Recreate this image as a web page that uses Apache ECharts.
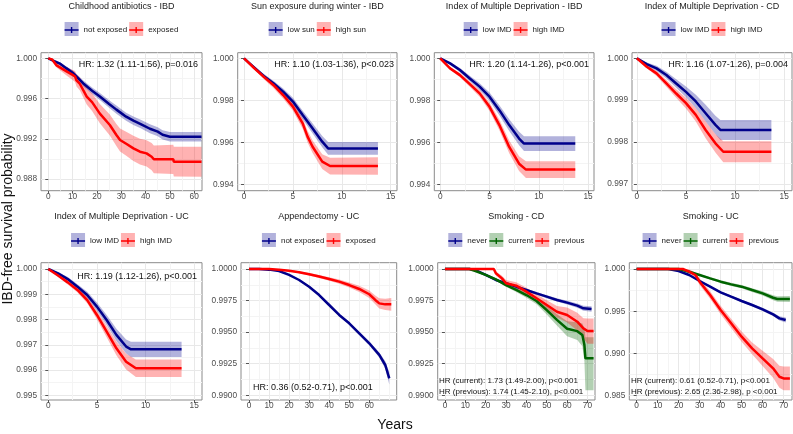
<!DOCTYPE html>
<html>
<head>
<meta charset="utf-8">
<script src="https://cdn.jsdelivr.net/npm/echarts@6/dist/echarts.min.js"></script>
<style>
html, body { margin: 0; padding: 0; background: #fff; }
#main { width: 793px; height: 434px; }
</style>
</head>
<body>
<div id="main"></div>
<script>
// ---- data (time in years, survival, lower / upper CI) ----

// Childhood antibiotics - IBD
var p1NotT = [0, 2, 5, 7.5, 10, 14.4, 18, 21.2, 25, 28, 32, 35, 38, 41.8, 45, 47, 50, 55, 63];
var p1NotS = [1, 0.99977, 0.99944, 0.9990, 0.99857, 0.9975, 0.99678, 0.9962, 0.99546, 0.9949, 0.9942, 0.9938, 0.99347, 0.9930, 0.99271, 0.9924, 0.99221, 0.99221, 0.99221];
var p1NotLo = [1, 0.99967, 0.99929, 0.9988, 0.99832, 0.9972, 0.99645, 0.99585, 0.99508, 0.9945, 0.9938, 0.99338, 0.99304, 0.99256, 0.99226, 0.99194, 0.99174, 0.99174, 0.99174];
var p1NotHi = [1, 0.99987, 0.99959, 0.9992, 0.99882, 0.9978, 0.99711, 0.99655, 0.99584, 0.9953, 0.9946, 0.99422, 0.9939, 0.99344, 0.99316, 0.99286, 0.99268, 0.99268, 0.99268];
var p1ExpT = [0, 1.5, 3.4, 7.5, 10, 11, 11.6, 13, 15.8, 18, 21.2, 25.3, 28, 29.5, 32.2, 35, 37.7, 40.4, 42.5, 43.4, 51.4, 51.6, 63];
var p1ExpS = [1, 0.9999, 0.9993, 0.9987, 0.99835, 0.9982, 0.9978, 0.99745, 0.9962, 0.99565, 0.9945, 0.99337, 0.99238, 0.99188, 0.99148, 0.99105, 0.99072, 0.99055, 0.99022, 0.98996, 0.98996, 0.98972, 0.98972];
var p1ExpLo = [1, 0.9998, 0.9991, 0.9983, 0.99785, 0.99765, 0.9972, 0.9968, 0.9954, 0.99477, 0.99355, 0.99232, 0.99128, 0.99073, 0.99028, 0.9898, 0.98944, 0.98925, 0.98887, 0.98858, 0.98851, 0.98824, 0.98822];
var p1ExpHi = [1, 1, 0.9995, 0.9991, 0.99885, 0.99875, 0.9984, 0.9981, 0.997, 0.99653, 0.99545, 0.99442, 0.99348, 0.99303, 0.99268, 0.9923, 0.992, 0.99185, 0.99157, 0.99134, 0.99141, 0.9912, 0.99122];

// Sun exposure during winter - IBD
var p2LowT = [0, 1, 2, 3, 4, 5, 6, 7, 8, 8.6, 13.7];
var p2LowS = [1, 0.99958, 0.99916, 0.99881, 0.99841, 0.99794, 0.9973, 0.99667, 0.99603, 0.99571, 0.99571];
var p2LowLo = [1, 0.99952, 0.99906, 0.99869, 0.99826, 0.99776, 0.9971, 0.99643, 0.99576, 0.99541, 0.99541];
var p2LowHi = [1, 0.99964, 0.99926, 0.99893, 0.99856, 0.99812, 0.9975, 0.99691, 0.9963, 0.99601, 0.99601];
var p2HighT = [0, 1, 2, 3, 4, 5, 6, 6.5, 7, 8, 8.8, 13.7];
var p2HighS = [1, 0.99955, 0.99913, 0.99873, 0.99825, 0.9977, 0.9969, 0.99627, 0.9958, 0.99508, 0.99487, 0.99487];
var p2HighLo = [1, 0.99948, 0.99902, 0.99859, 0.99808, 0.9975, 0.99665, 0.99599, 0.9955, 0.99473, 0.99447, 0.99445];
var p2HighHi = [1, 0.99962, 0.99924, 0.99887, 0.99842, 0.9979, 0.99715, 0.99655, 0.9961, 0.99543, 0.99527, 0.99529];

// Index of Multiple Deprivation - IBD
var p3LowT = [0, 1, 2, 3, 4, 5, 6, 7, 8, 8.5, 13.7];
var p3LowS = [1, 0.99976, 0.99944, 0.99904, 0.99865, 0.99817, 0.99753, 0.99682, 0.99618, 0.99594, 0.99594];
var p3LowLo = [1, 0.9997, 0.99934, 0.99891, 0.99849, 0.99797, 0.99729, 0.99654, 0.99586, 0.99559, 0.99559];
var p3LowHi = [1, 0.99982, 0.99954, 0.99917, 0.99881, 0.99837, 0.99777, 0.9971, 0.9965, 0.99629, 0.99629];
var p3HighT = [0, 1, 2, 3, 4, 5, 6, 7, 8, 8.7, 13.7];
var p3HighS = [1, 0.99952, 0.9992, 0.99877, 0.99833, 0.99769, 0.99682, 0.99578, 0.99498, 0.9947, 0.9947];
var p3HighLo = [1, 0.99946, 0.9991, 0.99864, 0.99817, 0.99749, 0.99657, 0.99548, 0.99463, 0.9943, 0.9943];
var p3HighHi = [1, 0.99958, 0.9993, 0.9989, 0.99849, 0.99789, 0.99707, 0.99608, 0.99533, 0.9951, 0.9951];

// Index of Multiple Deprivation - CD
var p4LowT = [0, 1, 2, 3, 4, 5, 6, 7, 8, 8.5, 13.7];
var p4LowS = [1, 0.99986, 0.99976, 0.9996, 0.9994, 0.9992, 0.99897, 0.99869, 0.99841, 0.99829, 0.99829];
var p4LowLo = [1, 0.99982, 0.9997, 0.99952, 0.9993, 0.99907, 0.99881, 0.99849, 0.99819, 0.99805, 0.99805];
var p4LowHi = [1, 0.9999, 0.99982, 0.99968, 0.9995, 0.99933, 0.99913, 0.99889, 0.99863, 0.99853, 0.99853];
var p4HighT = [0, 1, 2, 3, 4, 5, 6, 7, 8, 8.8, 13.7];
var p4HighS = [1, 0.9998, 0.99964, 0.9994, 0.99916, 0.99893, 0.99865, 0.99829, 0.99797, 0.99777, 0.99777];
var p4HighLo = [1, 0.99976, 0.99958, 0.99932, 0.99906, 0.9988, 0.99849, 0.99809, 0.99775, 0.99752, 0.99752];
var p4HighHi = [1, 0.99984, 0.9997, 0.99948, 0.99926, 0.99906, 0.99881, 0.99849, 0.99819, 0.99802, 0.99802];

// Index of Multiple Deprivation - UC
var p5LowT = [0, 1, 2, 3, 4, 5, 6, 7, 8, 8.5, 13.7];
var p5LowS = [1, 0.99983, 0.9996, 0.9993, 0.99897, 0.99851, 0.99798, 0.99739, 0.99693, 0.99682, 0.99682];
var p5LowLo = [1, 0.99978, 0.99952, 0.9992, 0.99884, 0.99835, 0.99778, 0.99715, 0.99665, 0.99652, 0.99652];
var p5LowHi = [1, 0.99988, 0.99968, 0.9994, 0.9991, 0.99867, 0.99818, 0.99763, 0.99721, 0.99712, 0.99712];
var p5HighT = [0, 1, 2, 3, 4, 5, 6, 7, 8, 9, 13.7];
var p5HighS = [1, 0.99974, 0.99947, 0.99917, 0.99877, 0.99818, 0.99752, 0.99686, 0.99633, 0.99607, 0.99607];
var p5HighLo = [1, 0.99969, 0.99939, 0.99907, 0.99864, 0.99801, 0.9973, 0.99659, 0.99602, 0.99572, 0.99572];
var p5HighHi = [1, 0.99979, 0.99955, 0.99927, 0.9989, 0.99835, 0.99774, 0.99713, 0.99664, 0.99642, 0.99642];

// Appendectomy - UC
var p6NotT = [0, 5, 10, 15, 20, 25, 30, 35, 40, 45, 50, 55, 60, 65, 68, 70];
var p6NotS = [1, 1, 0.99995, 0.99984, 0.99953, 0.99913, 0.9986, 0.99794, 0.99715, 0.99636, 0.9957, 0.99491, 0.99412, 0.9932, 0.9924, 0.99135];
var p6NotLo = [1, 1, 0.99993, 0.9998, 0.99948, 0.99907, 0.99853, 0.99786, 0.99706, 0.99626, 0.99559, 0.99478, 0.99396, 0.993, 0.9921, 0.99085];
var p6NotHi = [1, 1, 0.99997, 0.99988, 0.99958, 0.99919, 0.99867, 0.99802, 0.99724, 0.99646, 0.99581, 0.99504, 0.99428, 0.9934, 0.9927, 0.99185];
var p6ExpT = [0, 10, 15, 20, 25, 30, 35, 40, 45, 50, 55, 60, 63, 65, 68, 71];
var p6ExpS = [1, 1, 0.99995, 0.99987, 0.99974, 0.99958, 0.9994, 0.99921, 0.999, 0.99873, 0.99842, 0.998, 0.99755, 0.99728, 0.9972, 0.9972];
var p6ExpLo = [1, 1, 0.99992, 0.99981, 0.99966, 0.99948, 0.99928, 0.99907, 0.99884, 0.99853, 0.99817, 0.9977, 0.9972, 0.99688, 0.99675, 0.9967];
var p6ExpHi = [1, 1, 0.99998, 0.99993, 0.99982, 0.99968, 0.99952, 0.99935, 0.99916, 0.99893, 0.99867, 0.9983, 0.9979, 0.99768, 0.99765, 0.9977];

// Smoking - CD
var p7NevT = [0, 12, 15, 20, 25, 30, 35, 40, 45, 50, 55, 60, 65, 68, 72];
var p7NevS = [1, 1, 0.99992, 0.99953, 0.99913, 0.99887, 0.9986, 0.99834, 0.99807, 0.99781, 0.99755, 0.99734, 0.9971, 0.99689, 0.99683];
var p7NevLo = [1, 1, 0.99989, 0.99948, 0.99906, 0.99879, 0.99851, 0.99824, 0.99796, 0.99769, 0.99742, 0.99719, 0.99693, 0.99669, 0.99661];
var p7NevHi = [1, 1, 0.99995, 0.99958, 0.9992, 0.99895, 0.99869, 0.99844, 0.99818, 0.99793, 0.99768, 0.99749, 0.99727, 0.99709, 0.99705];
var p7CurT = [0, 12, 15, 20, 25, 30, 35, 40, 45, 50, 55, 60, 65, 67.5, 68.5, 69, 73];
var p7CurS = [1, 1, 0.99984, 0.99953, 0.99918, 0.99873, 0.99834, 0.99794, 0.99747, 0.99675, 0.99597, 0.99527, 0.99508, 0.99478, 0.99398, 0.99293, 0.99293];
var p7CurLo = [1, 1, 0.9998, 0.99946, 0.99908, 0.9986, 0.99817, 0.99772, 0.9972, 0.9964, 0.99552, 0.99467, 0.99438, 0.99388, 0.99268, 0.9904, 0.9904];
var p7CurHi = [1, 1, 0.99988, 0.9996, 0.99928, 0.99886, 0.99851, 0.99816, 0.99774, 0.9971, 0.99642, 0.99587, 0.99578, 0.99568, 0.99528, 0.9946, 0.9946];
var p7PrevT = [0, 24, 25, 28, 30, 35, 40, 45, 50, 55, 60, 65, 68, 70, 73];
var p7PrevS = [1, 1, 0.99966, 0.99926, 0.99887, 0.99868, 0.99821, 0.99768, 0.99715, 0.99662, 0.99636, 0.99583, 0.9953, 0.99509, 0.99509];
var p7PrevLo = [1, 1, 0.99951, 0.99906, 0.99862, 0.9984, 0.99791, 0.99735, 0.99677, 0.99617, 0.99576, 0.99513, 0.9945, 0.99409, 0.99409];
var p7PrevHi = [1, 1, 0.99981, 0.99946, 0.99912, 0.99896, 0.99851, 0.99801, 0.99753, 0.99707, 0.99696, 0.99653, 0.9961, 0.99609, 0.99609];

// Smoking - UC
var p8NevT = [0, 15, 20, 25, 30, 35, 40, 45, 50, 55, 60, 65, 68, 71];
var p8NevS = [1, 1, 0.99976, 0.99929, 0.99858, 0.99791, 0.99724, 0.99672, 0.99621, 0.99574, 0.99522, 0.99463, 0.99416, 0.99396];
var p8NevLo = [1, 1, 0.99971, 0.99921, 0.99848, 0.99779, 0.99711, 0.99658, 0.99606, 0.99558, 0.99504, 0.99443, 0.99391, 0.99366];
var p8NevHi = [1, 1, 0.99981, 0.99937, 0.99868, 0.99803, 0.99737, 0.99686, 0.99636, 0.9959, 0.9954, 0.99483, 0.99441, 0.99426];
var p8CurT = [0, 20, 25, 30, 35, 40, 45, 50, 55, 60, 65, 67, 73];
var p8CurS = [1, 1, 0.99968, 0.99929, 0.99889, 0.9985, 0.99818, 0.99791, 0.99751, 0.99712, 0.9966, 0.99645, 0.99645];
var p8CurLo = [1, 1, 0.99958, 0.99917, 0.99875, 0.99834, 0.998, 0.99771, 0.99729, 0.99687, 0.9963, 0.99612, 0.9961];
var p8CurHi = [1, 1, 0.99978, 0.99941, 0.99903, 0.99866, 0.99836, 0.99811, 0.99773, 0.99737, 0.9969, 0.99678, 0.9968];
var p8PrevT = [0, 22, 25, 28, 30, 35, 40, 45, 50, 55, 60, 65, 68, 70, 73];
var p8PrevS = [1, 1, 0.99968, 0.99929, 0.9985, 0.99692, 0.99514, 0.99357, 0.99199, 0.9906, 0.98942, 0.98824, 0.98725, 0.98705, 0.98705];
var p8PrevLo = [1, 1, 0.99938, 0.99899, 0.9981, 0.99647, 0.99464, 0.99302, 0.99139, 0.9899, 0.98852, 0.98714, 0.98595, 0.98565, 0.98565];
var p8PrevHi = [1, 1, 0.99998, 0.99959, 0.9989, 0.99737, 0.99564, 0.99412, 0.99259, 0.9913, 0.99032, 0.98934, 0.98855, 0.98845, 0.98845];

// tick values
var xTicks60 = [0, 10, 20, 30, 40, 50, 60];
var xMinor60 = [5, 15, 25, 35, 45, 55];
var xMinor60ext = [5, 15, 25, 35, 45, 55, 65, 70];
var xTicks70 = [0, 10, 20, 30, 40, 50, 60, 70];
var xMinor70 = [5, 15, 25, 35, 45, 55, 65];
var xTicks15 = [0, 5, 10, 15];
var xMinor15 = [2.5, 7.5, 12.5];
var yTicksP1 = [0.988, 0.992, 0.996, 1.000];
var yMinorP1 = [0.990, 0.994, 0.998];
var yTicksP2 = [0.994, 0.996, 0.998, 1.000];
var yMinorP2 = [0.995, 0.997, 0.999];
var yTicksP4 = [0.997, 0.998, 0.999, 1.000];
var yMinorP4 = [0.9975, 0.9985, 0.9995];
var yTicksP5 = [0.995, 0.996, 0.997, 0.998, 0.999, 1.000];
var yMinorP5 = [0.9955, 0.9965, 0.9975, 0.9985, 0.9995];
var yTicksP6 = [0.9900, 0.9925, 0.9950, 0.9975, 1.0000];
var yMinorP6 = [0.99125, 0.99375, 0.99625, 0.99875];
var yTicksP8 = [0.985, 0.990, 0.995, 1.000];
var yMinorP8 = [0.9875, 0.9925, 0.9975];

// ---- styling / layout ----
var FONT = '"Liberation Sans", Arial, Helvetica, sans-serif';
var BLUE = '#00008B', RED = '#FF0000', GREEN = '#006400';
var BLUE_BAND = 'rgba(0,0,139,0.3)', RED_BAND = 'rgba(255,0,0,0.3)', GREEN_BAND = 'rgba(0,100,0,0.3)';
var CROSS = 'path://M0,2.2L14,2.2L14,3.8L0,3.8Z M6.3,0L7.7,0L7.7,6L6.3,6Z';

function curve(name, color, band, t, s, lo, hi) {
    return { name: name, color: color, band: band, t: t, s: s, lo: lo, hi: hi };
}

var panels = [
    { title: 'Childhood antibiotics - IBD', box: [41, 52.7, 202, 190.7], x: [-3, 63.2], y: [0.98684, 1.00056],
      xt: xTicks60, xm: xMinor60, yt: yTicksP1, ym: yMinorP1, dec: 3, ly: 29, ty: 6.5,
      curves: [curve('not exposed', BLUE, BLUE_BAND, p1NotT, p1NotS, p1NotLo, p1NotHi),
               curve('exposed', RED, RED_BAND, p1ExpT, p1ExpS, p1ExpLo, p1ExpHi)],
      notes: [{ text: 'HR: 1.32 (1.11-1.56), p=0.016', x: 198, y: 65, align: 'right', size: 9 }] },
    { title: 'Sun exposure during winter - IBD', box: [237.7, 52.7, 397, 190.7], x: [-0.65, 15.65], y: [0.993695, 1.000267],
      xt: xTicks15, xm: xMinor15, yt: yTicksP2, ym: yMinorP2, dec: 3, ly: 29, ty: 6.5,
      curves: [curve('low sun', BLUE, BLUE_BAND, p2LowT, p2LowS, p2LowLo, p2LowHi),
               curve('high sun', RED, RED_BAND, p2HighT, p2HighS, p2HighLo, p2HighHi)],
      notes: [{ text: 'HR: 1.10 (1.03-1.36), p<0.023', x: 394, y: 65, align: 'right', size: 9 }] },
    { title: 'Index of Multiple Deprivation - IBD', box: [434.3, 52.7, 594, 190.7], x: [-0.6, 15.6], y: [0.993695, 1.000267],
      xt: xTicks15, xm: xMinor15, yt: yTicksP2, ym: yMinorP2, dec: 3, ly: 29, ty: 6.5,
      curves: [curve('low IMD', BLUE, BLUE_BAND, p3LowT, p3LowS, p3LowLo, p3LowHi),
               curve('high IMD', RED, RED_BAND, p3HighT, p3HighS, p3HighLo, p3HighHi)],
      notes: [{ text: 'HR: 1.20 (1.14-1.26), p<0.001', x: 589, y: 65, align: 'right', size: 9 }] },
    { title: 'Index of Multiple Deprivation - CD', box: [632, 52.7, 792, 190.7], x: [-0.5, 15.8], y: [0.99684, 1.000134],
      xt: xTicks15, xm: xMinor15, yt: yTicksP4, ym: yMinorP4, dec: 3, ly: 29, ty: 6.5,
      curves: [curve('low IMD', BLUE, BLUE_BAND, p4LowT, p4LowS, p4LowLo, p4LowHi),
               curve('high IMD', RED, RED_BAND, p4HighT, p4HighS, p4HighLo, p4HighHi)],
      notes: [{ text: 'HR: 1.16 (1.07-1.26), p=0.004', x: 788, y: 65, align: 'right', size: 9 }] },
    { title: 'Index of Multiple Deprivation - UC', box: [41, 262.7, 202, 400], x: [-0.75, 15.8], y: [0.994814, 1.000249],
      xt: xTicks15, xm: xMinor15, yt: yTicksP5, ym: yMinorP5, dec: 3, ly: 240, ty: 216.5,
      curves: [curve('low IMD', BLUE, BLUE_BAND, p5LowT, p5LowS, p5LowLo, p5LowHi),
               curve('high IMD', RED, RED_BAND, p5HighT, p5HighS, p5HighLo, p5HighHi)],
      notes: [{ text: 'HR: 1.19 (1.12-1.26), p<0.001', x: 197, y: 277, align: 'right', size: 9 }] },
    { title: 'Appendectomy - UC', box: [241, 262.7, 396.7, 400], x: [-4, 73.7], y: [0.98963, 1.000499],
      xt: xTicks60, xm: xMinor60ext, yt: yTicksP6, ym: yMinorP6, dec: 4, ly: 240, ty: 216.5,
      curves: [curve('not exposed', BLUE, BLUE_BAND, p6NotT, p6NotS, p6NotLo, p6NotHi),
               curve('exposed', RED, RED_BAND, p6ExpT, p6ExpS, p6ExpLo, p6ExpHi)],
      notes: [{ text: 'HR: 0.36 (0.52-0.71), p<0.001', x: 253, y: 387.5, align: 'left', size: 9 }] },
    { title: 'Smoking - CD', box: [437.7, 262.7, 595, 400], x: [-3.56, 73.7], y: [0.98963, 1.000499],
      xt: xTicks70, xm: xMinor70, yt: yTicksP6, ym: yMinorP6, dec: 4, ly: 240, ty: 216.5,
      curves: [curve('never', BLUE, BLUE_BAND, p7NevT, p7NevS, p7NevLo, p7NevHi),
               curve('current', GREEN, GREEN_BAND, p7CurT, p7CurS, p7CurLo, p7CurHi),
               curve('previous', RED, RED_BAND, p7PrevT, p7PrevS, p7PrevLo, p7PrevHi)],
      notes: [{ text: 'HR (current): 1.73 (1.49-2.00), p<0.001', x: 439, y: 380.7, align: 'left', size: 8 },
              { text: 'HR (previous): 1.74 (1.45-2.10), p<0.001', x: 439, y: 391.7, align: 'left', size: 8 }] },
    { title: 'Smoking - UC', box: [629.3, 262.7, 792, 400], x: [-3.5, 74], y: [0.984494, 1.000746],
      xt: xTicks70, xm: xMinor70, yt: yTicksP8, ym: yMinorP8, dec: 3, ly: 240, ty: 216.5,
      curves: [curve('never', BLUE, BLUE_BAND, p8NevT, p8NevS, p8NevLo, p8NevHi),
               curve('current', GREEN, GREEN_BAND, p8CurT, p8CurS, p8CurLo, p8CurHi),
               curve('previous', RED, RED_BAND, p8PrevT, p8PrevS, p8PrevLo, p8PrevHi)],
      notes: [{ text: 'HR (current): 0.61 (0.52-0.71), p<0.001', x: 631, y: 380.7, align: 'left', size: 8 },
              { text: 'HR (previous): 2.65 (2.36-2.98), p <0.001', x: 631, y: 391.7, align: 'left', size: 8 }] }
];

var measure = document.createElement('canvas').getContext('2d');
measure.font = '8px ' + FONT;
var LEG_GAP = 2;

function textEl(text, x, y, size, color, align, rot) {
    return {
        type: 'text', x: x, y: y, rotation: rot || 0, z: 10, silent: true,
        style: { text: text, fontSize: size, fontFamily: FONT, fill: color,
                 align: align, verticalAlign: 'middle', textAlign: align, textVerticalAlign: 'middle' }
    };
}

var grids = [], xAxes = [], yAxes = [], series = [], legends = [], texts = [];

panels.forEach(function (p, gi) {
    var l = p.box[0], t = p.box[1], r = p.box[2], b = p.box[3];
    grids.push({ left: l, top: t, width: r - l, height: b - t, show: true,
                 borderColor: '#8a8a8a', borderWidth: 1, backgroundColor: '#fff' });

    var dec = p.dec;
    xAxes.push({ type: 'value', gridIndex: gi, min: p.x[0], max: p.x[1],
                 axisLine: { show: false },
                 axisTick: { show: true, length: 3, lineStyle: { color: '#555' }, customValues: p.xt },
                 axisLabel: { customValues: p.xt, margin: 2, fontSize: 8.3, color: '#4d4d4d', fontFamily: FONT },
                 splitLine: { show: true, lineStyle: { color: '#e8e8e8', width: 1 } } });
    xAxes.push({ type: 'value', gridIndex: gi, min: p.x[0], max: p.x[1], position: 'top',
                 axisLine: { show: false }, axisTick: { show: false, customValues: p.xm }, axisLabel: { show: false },
                 splitLine: { show: true, lineStyle: { color: '#f4f4f4', width: 1 } } });
    yAxes.push({ type: 'value', gridIndex: gi, min: p.y[0], max: p.y[1], position: 'left',
                 axisLine: { show: false },
                 axisTick: { show: true, length: 3, lineStyle: { color: '#555' }, customValues: p.yt },
                 axisLabel: { customValues: p.yt, margin: 4, fontSize: 8.3, color: '#4d4d4d', fontFamily: FONT,
                              formatter: function (v) { return v.toFixed(dec); } },
                 splitLine: { show: true, lineStyle: { color: '#e8e8e8', width: 1 } } });
    yAxes.push({ type: 'value', gridIndex: gi, min: p.y[0], max: p.y[1], position: 'right',
                 axisLine: { show: false }, axisTick: { show: false, customValues: p.ym }, axisLabel: { show: false },
                 splitLine: { show: true, lineStyle: { color: '#f4f4f4', width: 1 } } });

    // confidence bands first, then the survival curves on top
    p.curves.forEach(function (c) {
        series.push({
            type: 'custom', name: 'band:' + c.name, xAxisIndex: 2 * gi, yAxisIndex: 2 * gi,
            data: c.t.map(function (x, k) { return [x, c.lo[k], c.hi[k]]; }),
            encode: { x: 0, y: [1, 2] }, itemStyle: { color: c.band }, z: 2, silent: true,
            renderItem: function (params, api) {
                if (params.dataIndex !== 0) return;
                var upper = [], lower = [];
                for (var k = 0; k < c.t.length; k++) {
                    upper.push(api.coord([c.t[k], c.hi[k]]));
                    lower.unshift(api.coord([c.t[k], c.lo[k]]));
                }
                return { type: 'polygon', shape: { points: upper.concat(lower) }, style: { fill: c.band } };
            }
        });
    });
    p.curves.forEach(function (c) {
        series.push({
            type: 'line', name: c.name, xAxisIndex: 2 * gi, yAxisIndex: 2 * gi,
            data: c.t.map(function (x, k) { return [x, c.s[k]]; }),
            showSymbol: false, symbol: 'none', z: 3, silent: true,
            lineStyle: { color: c.color, width: 2.5 }, itemStyle: { color: c.color }
        });
    });

    // legend centred over the panel: band keys underneath, line keys on top
    var names = p.curves.map(function (c) { return c.name; });
    var w = 0;
    names.forEach(function (n, k) { w += 14 + 5 + measure.measureText(n).width + (k ? LEG_GAP : 0); });
    var lx = (l + r) / 2 - w / 2;
    legends.push({ left: lx, top: p.ly - 7, padding: 0, itemGap: LEG_GAP, itemWidth: 14, itemHeight: 14,
                   icon: 'rect', selectedMode: false, z: 4,
                   itemStyle: { borderWidth: 0 },
                   data: p.curves.map(function (c) { return { name: 'band:' + c.name, itemStyle: { color: c.band } }; }),
                   formatter: function (n) { return n.slice(5); },
                   textStyle: { fontSize: 8, fontFamily: FONT, color: 'rgba(0,0,0,0)', lineHeight: 14 } });
    legends.push({ left: lx, top: p.ly - 3, padding: 0, itemGap: LEG_GAP, itemWidth: 14, itemHeight: 6,
                   icon: CROSS, selectedMode: false, z: 5,
                   itemStyle: { borderWidth: 0 },
                   data: p.curves.map(function (c) { return { name: c.name, itemStyle: { color: c.color } }; }),
                   textStyle: { fontSize: 8, fontFamily: FONT, color: '#1a1a1a', lineHeight: 6 } });

    texts.push(textEl(p.title, (l + r) / 2, p.ty, 9, '#1a1a1a', 'center'));
    p.notes.forEach(function (n) {
        texts.push(textEl(n.text, n.x, n.y, n.size, '#111', n.align));
    });
});

texts.push(textEl('IBD-free survival probability', 8.5, 219, 14, '#111', 'center', Math.PI / 2));
texts.push(textEl('Years', 395, 425, 14, '#111', 'center'));

var chart = echarts.init(document.getElementById('main'), null, { renderer: 'canvas' });
chart.setOption({
    animation: false,
    backgroundColor: '#fff',
    textStyle: { fontFamily: FONT },
    grid: grids,
    xAxis: xAxes,
    yAxis: yAxes,
    legend: legends,
    series: series,
    graphic: { elements: texts }
});
</script>
</body>
</html>
